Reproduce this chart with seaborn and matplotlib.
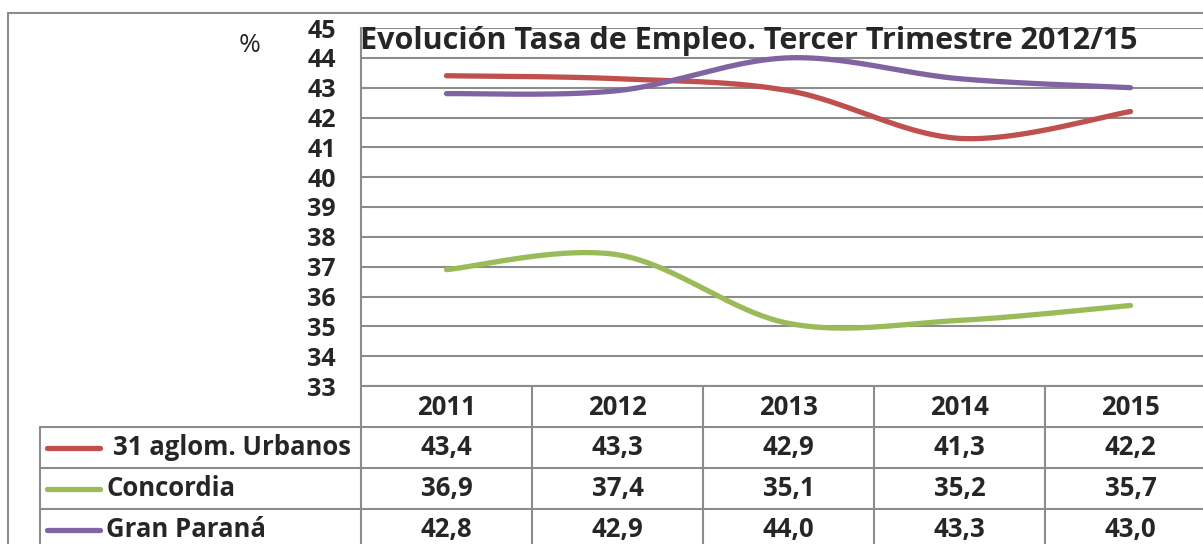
import numpy as np
import pandas as pd
import seaborn as sns
import matplotlib.pyplot as plt
from matplotlib.lines import Line2D

# --- data ---
years = ["2011", "2012", "2013", "2014", "2015"]
series_names = ["31 aglom. Urbanos", "Concordia", "Gran Paraná"]
urbanos = [43.4, 43.3, 42.9, 41.3, 42.2]
concordia = [36.9, 37.4, 35.1, 35.2, 35.7]
gran_parana = [42.8, 42.9, 44.0, 43.3, 43.0]
y_ticks = list(range(33, 46))
title = "Evolución Tasa de Empleo. Tercer Trimestre 2012/15"

colors = ["#C0504D", "#9BBB59", "#8064A2"]
grid_color = "#8C8C8C"
FONT = "Open Sans"

W, H = 1203, 544


def px(x, y):
    # pixel (from top-left) -> figure fraction
    return x / W, 1 - y / H


# --- Excel-like smoothed line (Bezier through the points) ---
def smooth(values, n=40):
    p = np.column_stack([np.arange(len(values)), values]).astype(float)
    pts = np.vstack([p[0], p, p[-1]])
    out = []
    t = np.linspace(0, 1, n)[:, None]
    for i in range(1, len(pts) - 2):
        p0, p1, p2, p3 = pts[i - 1], pts[i], pts[i + 1], pts[i + 2]
        c1 = p1 + (p2 - p0) / 6
        c2 = p2 - (p3 - p1) / 6
        b = (1 - t) ** 3 * p1 + 3 * (1 - t) ** 2 * t * c1 + 3 * (1 - t) * t ** 2 * c2 + t ** 3 * p2
        out.append(b)
    return np.vstack(out)


rows = []
for name, vals in zip(series_names, [urbanos, concordia, gran_parana]):
    curve = smooth(vals)
    for k, (xx, yy) in enumerate(curve):
        rows.append({"serie": name, "x": xx, "y": yy, "order": k})
df = pd.DataFrame(rows)

sns.set_style("white")
plt.rcParams["font.family"] = [FONT, "DejaVu Sans"]

fig = plt.figure(figsize=(W / 100, H / 100), dpi=100)
fig.set_facecolor("white")

# outer chart border
fig.add_artist(Line2D([8 / W, 8 / W], [0, 1 - 13 / H], transform=fig.transFigure, color="#8C8C8C", lw=1.5))
fig.add_artist(Line2D([8 / W, 1], [1 - 13 / H, 1 - 13 / H], transform=fig.transFigure, color="#8C8C8C", lw=1.5))

# plot area
left, top, right, bottom = 361, 28, 1216, 386
ax = fig.add_axes([left / W, 1 - bottom / H, (right - left) / W, (bottom - top) / H])
sns.lineplot(data=df, x="x", y="y", hue="serie", palette=colors, sort=False,
             estimator=None, units="serie", lw=3.8, ax=ax, legend=False,
             solid_capstyle="round")
ax.set_xlim(-0.5, len(years) - 0.5)
ax.set_ylim(min(y_ticks), max(y_ticks))
ax.set_yticks(y_ticks, labels=[str(v) for v in y_ticks], fontweight="bold", fontsize=18)
ax.set_xticks([])
ax.set_xlabel("")
ax.set_ylabel("")
for yv in y_ticks:
    ax.axhline(yv, color=grid_color, lw=1.5, zorder=0)
for s in ["top", "right", "bottom"]:
    ax.spines[s].set_visible(False)
ax.spines["left"].set_color(grid_color)
ax.spines["left"].set_linewidth(1.5)
ax.tick_params(axis="y", length=0, pad=18)
ax.set_facecolor("none")

fig.text(*px(250, 46), "%", ha="center", va="center", fontsize=19, fontfamily=FONT)
fig.text(*px(749, 41), title, ha="center", va="center", fontsize=22,
         fontweight="bold", fontfamily=FONT)

# --- data table below the plot ---
col_w = (right - left) / len(years)
row_top = [386, 427, 468, 509]
row_h = 41
tbl_left = 40
line_kw = dict(transform=fig.transFigure, color=grid_color, lw=1.5)

# horizontal lines
fig.add_artist(Line2D([left / W, 1.02], [1 - 386 / H] * 2, **line_kw))
for yy in row_top[1:]:
    fig.add_artist(Line2D([tbl_left / W, 1.02], [1 - yy / H] * 2, **line_kw))
# vertical lines
fig.add_artist(Line2D([tbl_left / W] * 2, [1 - 427 / H, -0.05], **line_kw))
for j in range(len(years) + 1):
    xx = left + j * col_w
    fig.add_artist(Line2D([xx / W] * 2, [1 - 386 / H, -0.05], **line_kw))

txt_kw = dict(ha="center", va="center", fontsize=18.5, fontweight="bold", fontfamily=FONT)
for j, yr in enumerate(years):
    fig.text(*px(left + (j + 0.5) * col_w, 387 + row_h / 2), yr, **txt_kw)

for i, (name, vals) in enumerate(zip(series_names, [urbanos, concordia, gran_parana])):
    yc = row_top[i + 1] + row_h / 2
    fig.add_artist(Line2D([47 / W, 100 / W], [1 - yc / H] * 2, transform=fig.transFigure,
                          color=colors[i], lw=3.8, solid_capstyle="round"))
    x0 = 113 if i == 0 else 106
    fig.text(*px(x0, yc), name, ha="left", va="center", fontsize=18.5,
             fontweight="bold", fontfamily=FONT)
    for j, v in enumerate(vals):
        fig.text(*px(left + (j + 0.5) * col_w, yc), f"{v:.1f}".replace(".", ","), **txt_kw)

fig.savefig("out.png", dpi=100, facecolor="white")
